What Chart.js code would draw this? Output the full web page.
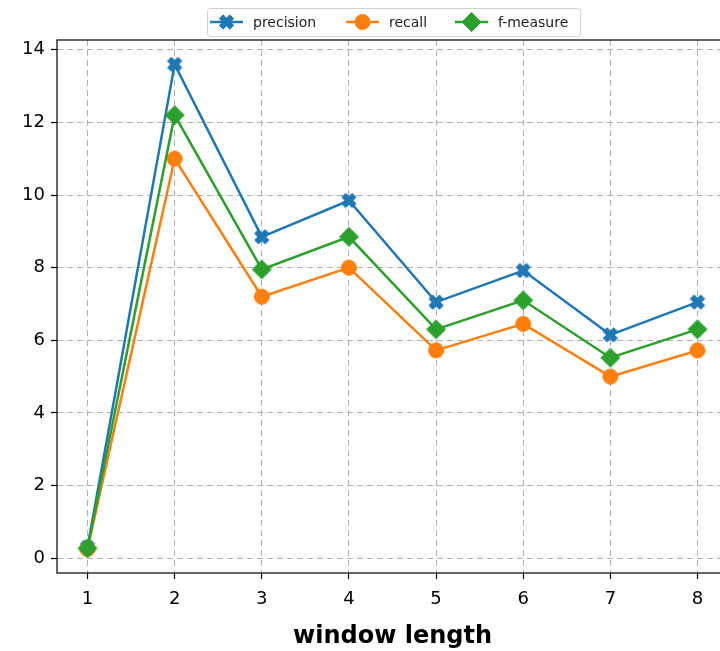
<!DOCTYPE html>
<html>
<head>
<meta charset="utf-8">
<script src="https://cdn.jsdelivr.net/npm/chart.js@4/dist/chart.umd.min.js"></script>
<style>
html, body { margin: 0; padding: 0; background: #fff; overflow: hidden; }
canvas { display: block; }
</style>
</head>
<body>
<canvas id="chart" width="728" height="651"></canvas>
<script>
const windowLengths = [1, 2, 3, 4, 5, 6, 7, 8];
const precision = [0.3, 13.6, 8.85, 9.85, 7.05, 7.92, 6.15, 7.05];
const recall = [0.25, 11.0, 7.2, 8.0, 5.72, 6.45, 5.0, 5.72];
const fMeasure = [0.27, 12.2, 7.95, 8.85, 6.3, 7.1, 5.52, 6.3];
const yTicks = [0, 2, 4, 6, 8, 10, 12, 14];
const seriesNames = ['precision', 'recall', 'f-measure'];

const BLUE = '#1f77b4', ORANGE = '#ff7f0e', GREEN = '#2ca02c';
const FONT = '"DejaVu Sans", sans-serif';

// matplotlib style markers: filled X, circle, diamond
function drawMarker(ctx, kind, x, y, color) {
    ctx.save();
    ctx.fillStyle = color;
    ctx.strokeStyle = color;
    ctx.lineWidth = 1;
    ctx.beginPath();
    if (kind === 'X') {
        const s = 7.4, w = 2.7;
        const plus = [[-w,-s],[w,-s],[w,-w],[s,-w],[s,w],[w,w],[w,s],[-w,s],[-w,w],[-s,w],[-s,-w],[-w,-w]];
        plus.forEach(function (p, i) {
            const px = x + (p[0] - p[1]) / Math.SQRT2;
            const py = y + (p[0] + p[1]) / Math.SQRT2;
            if (i === 0) ctx.moveTo(px, py); else ctx.lineTo(px, py);
        });
        ctx.closePath();
    } else if (kind === 'o') {
        ctx.arc(x, y, 7.5, 0, Math.PI * 2);
    } else {
        const r = 9.5;
        ctx.moveTo(x, y - r);
        ctx.lineTo(x + r, y);
        ctx.lineTo(x, y + r);
        ctx.lineTo(x - r, y);
        ctx.closePath();
    }
    ctx.fill();
    ctx.stroke();
    ctx.restore();
}

function markerImage(kind, color) {
    const c = document.createElement('canvas');
    c.width = 24; c.height = 24;
    drawMarker(c.getContext('2d'), kind, 12, 12, color);
    return c;
}

const markers = ['X', 'o', 'D'];
const colors = [BLUE, ORANGE, GREEN];

function toPoints(values) {
    return values.map(function (v, i) { return { x: windowLengths[i], y: v }; });
}

// axes frame (all four spines)
const framePlugin = {
    id: 'frame',
    afterDatasetsDraw: function (chart) {
        const a = chart.chartArea, ctx = chart.ctx;
        ctx.save();
        ctx.strokeStyle = '#000';
        ctx.lineWidth = 1.2;
        ctx.strokeRect(a.left, a.top, a.right - a.left, a.bottom - a.top);
        ctx.restore();
    }
};

// matplotlib style legend box above the axes
const legendPlugin = {
    id: 'mplLegend',
    afterDraw: function (chart) {
        const ctx = chart.ctx;
        const x0 = 207, y0 = 8, x1 = 580, y1 = 36;
        ctx.save();
        ctx.fillStyle = 'rgba(255,255,255,0.9)';
        ctx.strokeStyle = '#d0d0d0';
        ctx.lineWidth = 1;
        ctx.beginPath();
        ctx.roundRect(x0 + 0.5, y0 + 0.5, x1 - x0, y1 - y0, 3);
        ctx.fill();
        ctx.stroke();
        const starts = [210, 346, 455];
        const cy = 22;
        ctx.font = '14px ' + FONT;
        ctx.textBaseline = 'middle';
        seriesNames.forEach(function (name, i) {
            ctx.strokeStyle = colors[i];
            ctx.lineWidth = 2.5;
            ctx.beginPath();
            ctx.moveTo(starts[i], cy);
            ctx.lineTo(starts[i] + 33, cy);
            ctx.stroke();
            drawMarker(ctx, markers[i], starts[i] + 16.5, cy, colors[i]);
            ctx.fillStyle = '#222';
            ctx.fillText(name, starts[i] + 43, cy + 1);
        });
        ctx.restore();
    }
};

const datasets = [precision, recall, fMeasure].map(function (vals, i) {
    return {
        label: seriesNames[i],
        data: toPoints(vals),
        borderColor: colors[i],
        backgroundColor: colors[i],
        borderWidth: 2.5,
        pointStyle: markerImage(markers[i], colors[i]),
        pointRadius: 8,
        pointHoverRadius: 8,
        tension: 0,
        order: 2 - i // f-measure drawn on top, like matplotlib
    };
});

new Chart(document.getElementById('chart'), {
    type: 'line',
    data: { datasets: datasets },
    options: {
        responsive: false,
        animation: false,
        events: [],
        layout: { autoPadding: false, padding: { left: 0, top: 40, right: 0, bottom: 0 } },
        plugins: {
            legend: { display: false },
            tooltip: { enabled: false }
        },
        scales: {
            x: {
                type: 'linear',
                min: 0.65,
                max: 8.35,
                afterBuildTicks: function (scale) {
                    scale.ticks = windowLengths.map(function (v) { return { value: v }; });
                },
                afterFit: function (scale) {
                    scale.height = 78;
                    scale.paddingLeft = 0;
                    scale.paddingRight = 0;
                },
                grid: {
                    color: '#b0b0b0',
                    lineWidth: 1,
                    drawTicks: true,
                    tickLength: 6,
                    tickColor: '#000',
                    tickWidth: 1.2,
                    tickBorderDash: []
                },
                border: { display: false, dash: [6, 4] },
                ticks: {
                    padding: 10,
                    color: '#000',
                    font: { family: FONT, size: 18 },
                    callback: function (v) { return String(v); }
                },
                title: {
                    display: true,
                    text: 'window length',
                    color: '#000',
                    font: { family: FONT, size: 24, weight: 'bold' },
                    padding: { top: 0, bottom: 0 }
                }
            },
            y: {
                type: 'linear',
                min: -0.41,
                max: 14.27,
                afterBuildTicks: function (scale) {
                    scale.ticks = yTicks.map(function (v) { return { value: v }; });
                },
                afterFit: function (scale) {
                    scale.width = 57;
                    scale.paddingTop = 0;
                    scale.paddingBottom = 0;
                },
                grid: {
                    color: '#b0b0b0',
                    lineWidth: 1,
                    drawTicks: true,
                    tickLength: 6,
                    tickColor: '#000',
                    tickWidth: 1.2,
                    tickBorderDash: []
                },
                border: { display: false, dash: [6, 4] },
                ticks: {
                    padding: 6,
                    color: '#000',
                    font: { family: FONT, size: 18 },
                    callback: function (v) { return String(v); }
                }
            }
        }
    },
    plugins: [framePlugin, legendPlugin]
});
</script>
</body>
</html>
